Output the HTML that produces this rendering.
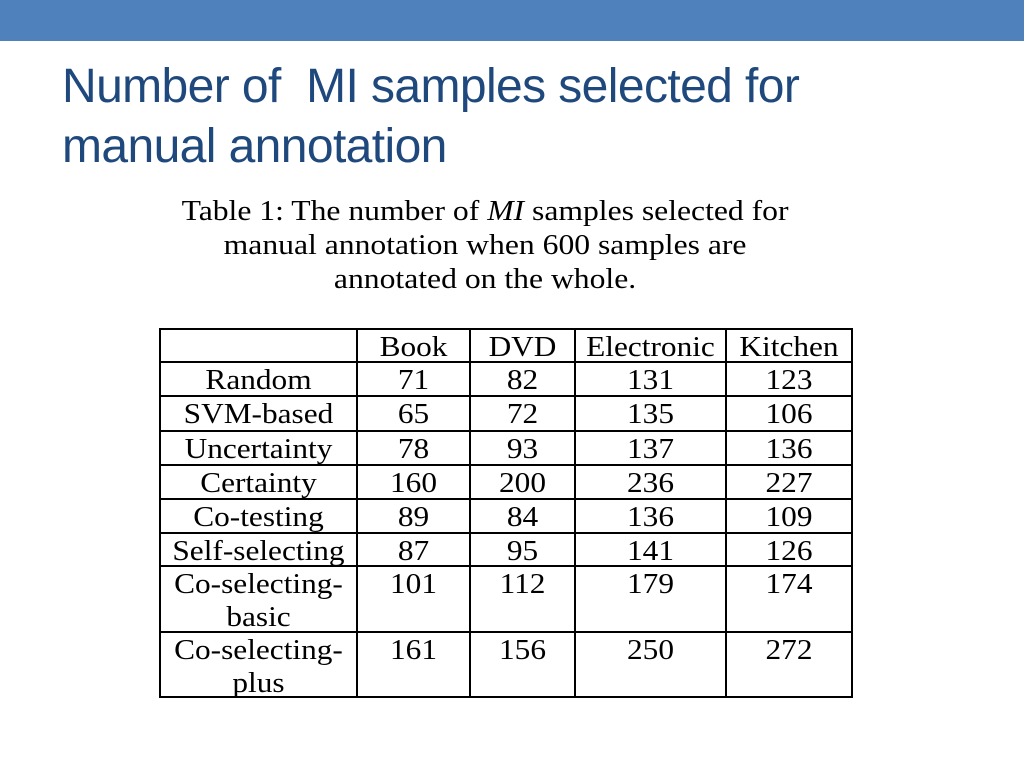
<!DOCTYPE html>
<html><head><meta charset="utf-8"><style>
body{margin:0;width:1024px;height:768px;background:#fff;position:relative;overflow:hidden}
#bar{position:absolute;left:0;top:0;width:1024px;height:41px;background:#4f81bd}
#title{position:absolute;left:62px;top:57px;font:48px/60px "Liberation Sans",sans-serif;color:#1f497d;letter-spacing:-0.6px;white-space:nowrap}
#cap{position:absolute;left:160px;width:692px;top:195px;text-align:center;font:28px/34px "Liberation Serif",serif;color:#000;transform:scaleX(1.13);transform-origin:507px 0}
.l{position:absolute;background:#000}
.c{position:absolute;font:29px/34px "Liberation Serif",serif;color:#000;text-align:center;transform:scaleX(1.08);white-space:nowrap}
</style></head><body>
<div id="bar"></div>
<div id="title">Number of&nbsp; MI samples selected for<br>manual annotation</div>
<div id="cap">Table 1: The number of <i>MI</i> samples selected for<br>manual annotation when 600 samples are<br>annotated on the whole.</div>
<div id="tbl"></div>
<script>
const cols=["","Book","DVD","Electronic","Kitchen"];
const rows=[["Random"],["SVM-based"],["Uncertainty"],["Certainty"],["Co-testing"],["Self-selecting"],["Co-selecting-","basic"],["Co-selecting-","plus"]];
const book=[71,65,78,160,89,87,101,161];
const dvd=[82,72,93,200,84,95,112,156];
const elec=[131,135,137,236,136,141,179,250];
const kitchen=[123,106,136,227,109,126,174,272];
const xs=[160,357,470,575,726,852];
const ys=[329,362,396,431,465,499,533,566,632,697];
const t=document.getElementById('tbl');
function line(x,y,w,h){const d=document.createElement('div');d.className='l';


d.style.cssText=`left:${x}px;top:${y}px;width:${w}px;height:${h}px`;t.appendChild(d);}
xs.forEach(x=>line(x-1,ys[0]-1,2,ys[ys.length-1]-ys[0]+2));
ys.forEach(y=>line(xs[0]-1,y-1,xs[5]-xs[0]+2,2));
function cell(ci,y,txt,name){const d=document.createElement('div');d.className='c';


d.style.left=xs[ci]+'px';d.style.width=(xs[ci+1]-xs[ci])+'px';d.style.top=y+'px';d.textContent=txt;t.appendChild(d);}
for(let i=1;i<5;i++)cell(i,ys[0]+1,cols[i],'column-header');
const data=[book,dvd,elec,kitchen];
rows.forEach((r,ri)=>{const y=ys[ri+1]+1;
r.forEach((s,k)=>cell(0,y+k*33,s,'row-label'));
data.forEach((arr,ci)=>cell(ci+1,y,String(arr[ri]),'value-cell'));});
</script>
</body></html>
